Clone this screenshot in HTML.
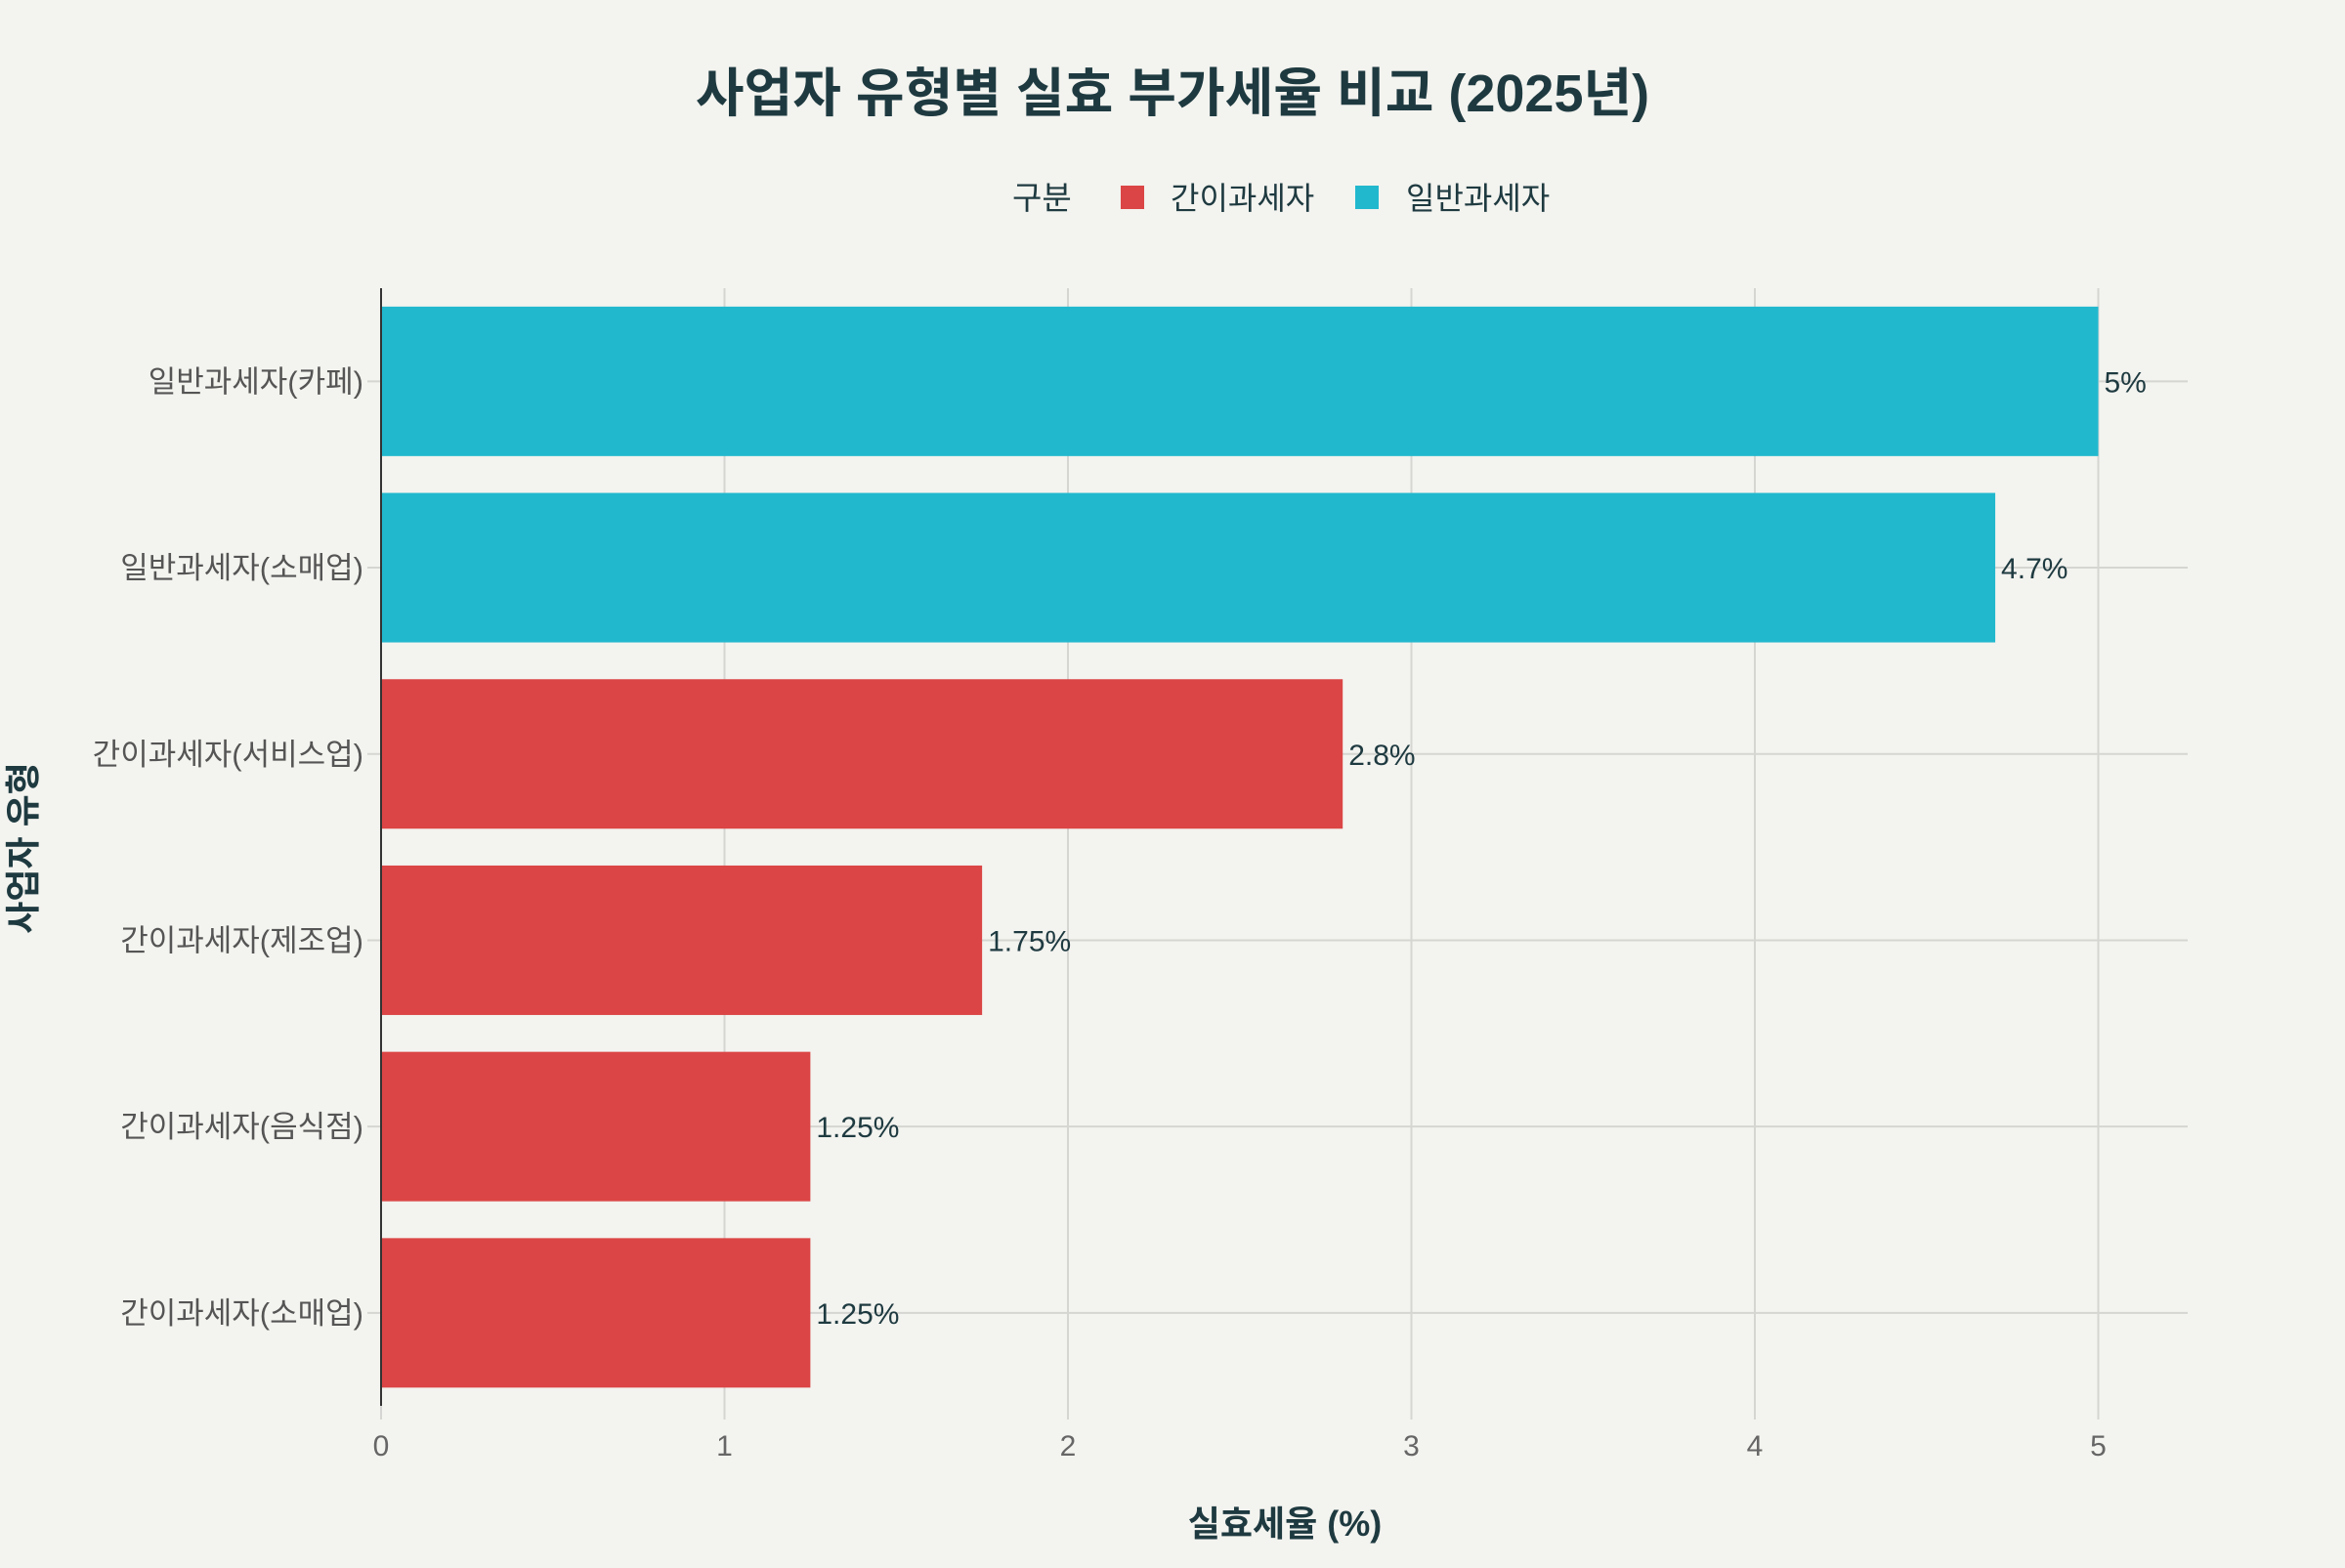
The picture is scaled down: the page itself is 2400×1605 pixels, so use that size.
<!DOCTYPE html>
<html><head><meta charset="utf-8">
<style>
body{margin:0;background:#F3F3EF;}
svg text{font-family:"Liberation Sans","Noto Sans CJK KR",sans-serif;}
</style></head>
<body>
<svg id="chart" width="2400" height="1600" viewBox="0 0 2400 1600" xmlns="http://www.w3.org/2000/svg">
<rect width="2400" height="1600" fill="#F3F3EF"/>
<text x="1200" y="114" text-anchor="middle" font-size="54" font-weight="bold" fill="#1E3A40">사업자 유형별 실효 부가세율 비교 (2025년)</text>
<g>
<text x="1036" y="214" font-size="33" fill="#1E3A40">구분</text>
<rect x="1147" y="190" width="24" height="24" fill="#DB4545"/>
<text x="1198" y="214" font-size="32" fill="#1E3A40">간이과세자</text>
<rect x="1387" y="190" width="24" height="24" fill="#21B8CE"/>
<text x="1439" y="214" font-size="32" fill="#1E3A40">일반과세자</text>
</g>
<g id="grid"></g>
<g id="bars"></g>
<line x1="390" y1="295" x2="390" y2="1439" stroke="#333" stroke-width="2"/>
<text x="1315" y="1572" text-anchor="middle" font-size="36" font-weight="bold" fill="#1E3A40">실효세율 (%)</text>
<text transform="translate(36,868) rotate(-90)" text-anchor="middle" font-size="36" font-weight="bold" fill="#1E3A40">사업자 유형</text>
</svg>
<script>
const categories=["일반과세자(카페)","일반과세자(소매업)","간이과세자(서비스업)","간이과세자(제조업)","간이과세자(음식점)","간이과세자(소매업)"];
const values=[5,4.7,2.8,1.75,1.25,1.25];
const groups=["general","general","simple","simple","simple","simple"];
const valueLabels=["5%","4.7%","2.8%","1.75%","1.25%","1.25%"];
const xTicks=[0,1,2,3,4,5];
const NS="http://www.w3.org/2000/svg";
const plotX0=390,plotUnit=351.5,plotTop=295,plotBand=190.7,plotBarH=153,plotRight=2239,plotBottom=1439;
const xs=v=>plotX0+v*plotUnit;
const yc=i=>plotTop+plotBand*(i+0.5);
const colors={general:"#21B8CE",simple:"#DB4545"};
function mk(tag,attrs,parent){const e=document.createElementNS(NS,tag);for(const k in attrs)e.setAttribute(k,attrs[k]);parent.appendChild(e);return e;}
const gridG=document.getElementById('grid'),barsG=document.getElementById('bars');
xTicks.forEach(t=>{
 const l=mk('line',{x1:xs(t),x2:xs(t),y1:plotTop,y2:plotBottom+14,stroke:"#D5D5D2","stroke-width":2},gridG);
 
 
 const tx=mk('text',{x:xs(t),y:1490,"text-anchor":"middle","font-size":30,fill:"#666"},gridG);
 tx.textContent=t;
 
 
});
categories.forEach((c,i)=>{
 const y=yc(i);
 const g=mk('line',{x1:plotX0-14,x2:plotRight,y1:y,y2:y,stroke:"#D5D5D2","stroke-width":2},gridG);
 
 
 const lb=mk('text',{x:372,y:y+11,"text-anchor":"end","font-size":31,fill:"#555"},gridG);
 lb.textContent=c;
 
 
 const r=mk('rect',{x:plotX0,y:y-plotBarH/2,width:xs(values[i])-plotX0,height:plotBarH,fill:colors[groups[i]]},barsG);
 
 
 const vt=mk('text',{x:xs(values[i])+6,y:y+11,"font-size":30,fill:"#1E3A40"},barsG);
 vt.textContent=valueLabels[i];
 
 
});
</script>
</body></html>
